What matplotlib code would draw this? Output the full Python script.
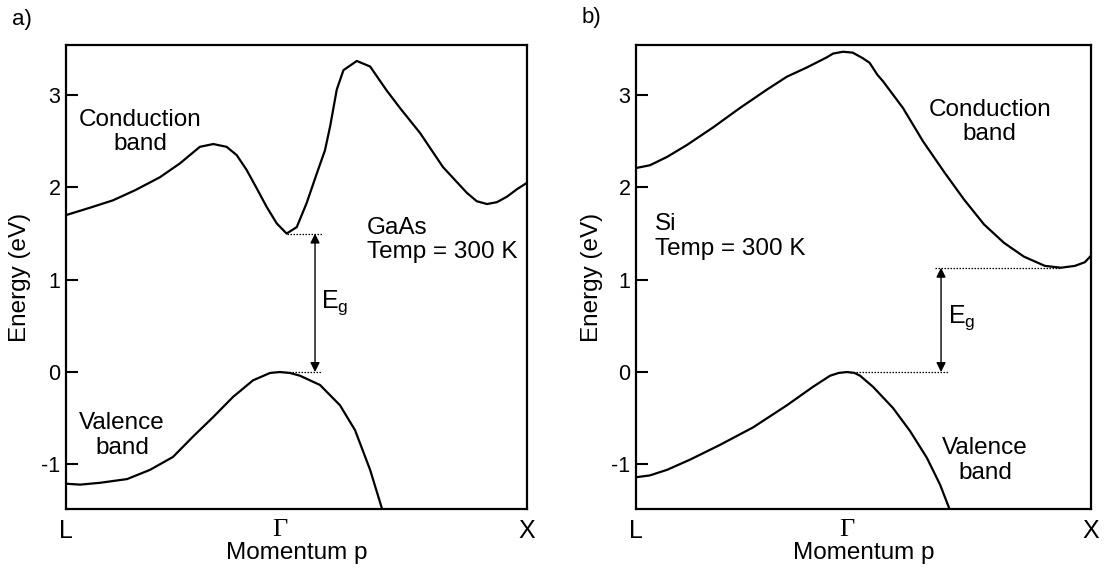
import matplotlib
matplotlib.use("Agg")
import matplotlib.pyplot as plt

plt.rcParams['font.family'] = ['Liberation Sans', 'DejaVu Sans']

# ---------------- data ----------------
# momentum axis: L = -0.866, Gamma = 0, X = 1
k_ticks = [-0.866, 0.0, 1.0]
k_labels = ['L', 'Γ', 'X']
y_ticks = [-1, 0, 1, 2, 3]
y_tick_labels = ['-1', '0', '1', '2', '3']

# GaAs
gaas_cb_k = [-0.866, -0.769, -0.676, -0.586, -0.486, -0.405, -0.324, -0.270, -0.216,
             -0.175, -0.135, -0.094, -0.054, -0.013, 0.027, 0.068, 0.108, 0.149,
             0.182, 0.203, 0.230, 0.257, 0.311, 0.365, 0.432, 0.486, 0.567, 0.660,
             0.757, 0.797, 0.838, 0.878, 0.919, 0.959, 1.0]
gaas_cb_E = [1.70, 1.78, 1.86, 1.97, 2.11, 2.26, 2.44, 2.47, 2.44,
             2.35, 2.19, 1.99, 1.79, 1.61, 1.50, 1.57, 1.83, 2.15,
             2.40, 2.66, 3.06, 3.27, 3.37, 3.31, 3.05, 2.86, 2.59, 2.22,
             1.94, 1.85, 1.82, 1.84, 1.90, 1.98, 2.05]
gaas_vb_k = [-0.866, -0.809, -0.728, -0.619, -0.526, -0.433, -0.352, -0.271, -0.190,
             -0.109, -0.040, 0.0, 0.040, 0.081, 0.162, 0.243, 0.304, 0.365, 0.413]
gaas_vb_E = [-1.21, -1.22, -1.20, -1.16, -1.06, -0.92, -0.70, -0.49, -0.27,
             -0.09, -0.01, 0.0, -0.01, -0.04, -0.14, -0.36, -0.63, -1.06, -1.48]
gaas_gap = 1.50
gaas_cb_min_k = 0.027

# Si
si_cb_k = [-0.866, -0.809, -0.739, -0.657, -0.550, -0.440, -0.329, -0.247, -0.165,
           -0.083, -0.058, -0.017, 0.023, 0.064, 0.092, 0.124, 0.147, 0.229, 0.311,
           0.397, 0.479, 0.561, 0.643, 0.725, 0.811, 0.877, 0.934, 0.975, 1.0]
si_cb_E = [2.21, 2.24, 2.33, 2.46, 2.65, 2.86, 3.06, 3.20, 3.30,
           3.41, 3.45, 3.47, 3.46, 3.40, 3.35, 3.22, 3.15, 2.86, 2.50,
           2.17, 1.87, 1.60, 1.40, 1.25, 1.15, 1.13, 1.15, 1.19, 1.26]
si_vb_k = [-0.866, -0.809, -0.739, -0.645, -0.522, -0.386, -0.247, -0.140, -0.070,
           -0.035, 0.0, 0.030, 0.053, 0.106, 0.188, 0.258, 0.327, 0.381, 0.422]
si_vb_E = [-1.14, -1.12, -1.06, -0.95, -0.79, -0.60, -0.36, -0.16, -0.04,
           -0.01, 0.0, -0.01, -0.04, -0.16, -0.39, -0.64, -0.93, -1.22, -1.50]
si_gap = 1.13
si_cb_min_k = 0.877

# ---------------- figure ----------------
W, H = 1106, 572
fig = plt.figure(figsize=(W / 100, H / 100), dpi=100)

def px_axes(x0, x1, y0, y1):
    return fig.add_axes([x0 / W, 1 - y1 / H, (x1 - x0) / W, (y1 - y0) / H])

axA = px_axes(66, 527, 45, 509)
axB = px_axes(636, 1091, 45, 509)

FS = 17.5
LW = 1.6

def style(ax):
    ax.set_xlim(-0.866, 1.0)
    ax.set_ylim(-1.484, 3.543)
    ax.set_yticks(y_ticks)
    ax.set_yticklabels(y_tick_labels)
    ax.set_xticks(k_ticks)
    ax.set_xticklabels(k_labels)
    for s in ax.spines.values():
        s.set_linewidth(1.6)
    ax.tick_params(axis='y', direction='in', length=8.5, width=1.5, labelsize=15.5, pad=4)
    ax.tick_params(axis='x', length=0, labelsize=18, pad=7)
    for lbl in ax.get_xticklabels():
        if lbl.get_text() == 'Γ':
            lbl.set_family('Liberation Serif')
            lbl.set_fontsize(19)
    ax.set_ylabel('Energy (eV)', fontsize=FS)
    ax.set_xlabel('Momentum p', fontsize=FS)
    ax.yaxis.label.set_va('center')
    ax.xaxis.label.set_va('center')


def gap_marker(ax, k_arrow, gap, k_cb0, k_cb1, k_vb0, k_vb1, k_txt, y_txt):
    ax.plot([k_cb0, k_cb1], [gap, gap], ls=(0, (1.2, 1.2)), color='black', lw=0.9)
    ax.plot([k_vb0, k_vb1], [0, 0], ls=(0, (1.2, 1.2)), color='black', lw=0.9)
    ax.annotate('', xy=(k_arrow, gap), xytext=(k_arrow, 0),
                arrowprops=dict(arrowstyle='<|-|>', color='black', lw=1.0,
                                mutation_scale=14, shrinkA=0, shrinkB=0))
    ax.text(k_txt, y_txt, r'E$_\mathregular{g}$', fontsize=18, ha='left', va='center')


# ---- panel a: GaAs ----
style(axA)
axA.plot(gaas_cb_k, gaas_cb_E, color='black', lw=LW, solid_joinstyle='round')
axA.plot(gaas_vb_k, gaas_vb_E, color='black', lw=LW, solid_joinstyle='round')
gap_marker(axA, 0.142, gaas_gap, gaas_cb_min_k, 0.170, 0.0, 0.170, 0.168, 0.75)
axA.text(-0.566, 2.60, 'Conduction\nband', fontsize=FS, ha='center', va='center',
         linespacing=1.15)
axA.text(-0.639, -0.69, 'Valence\nband', fontsize=FS, ha='center', va='center',
         linespacing=1.15)
axA.text(0.352, 1.43, 'GaAs\nTemp = 300 K', fontsize=FS, ha='left', va='center',
         linespacing=1.15)
axA.yaxis.set_label_coords(-0.0998, 0.5)
axA.xaxis.set_label_coords(0.5, -0.095)

# ---- panel b: Si ----
style(axB)
axB.plot(si_cb_k, si_cb_E, color='black', lw=LW, solid_joinstyle='round')
axB.plot(si_vb_k, si_vb_E, color='black', lw=LW, solid_joinstyle='round')
gap_marker(axB, 0.385, si_gap, 0.360, si_cb_min_k, 0.0, 0.413, 0.413, 0.585)
axB.text(0.585, 2.71, 'Conduction\nband', fontsize=FS, ha='center', va='center',
         linespacing=1.15)
axB.text(0.565, -0.96, 'Valence\nband', fontsize=FS, ha='center', va='center',
         linespacing=1.15)
axB.text(-0.788, 1.47, 'Si\nTemp = 300 K', fontsize=FS, ha='left', va='center',
         linespacing=1.15)
axB.yaxis.set_label_coords(-0.0967, 0.5)
axB.xaxis.set_label_coords(0.5, -0.095)

# panel letters
fig.text(12 / W, 1 - 19 / H, 'a)', fontsize=16, ha='left', va='center')
fig.text(582 / W, 1 - 18 / H, 'b)', fontsize=16, ha='left', va='center')

fig.savefig('out.png', dpi=100)
